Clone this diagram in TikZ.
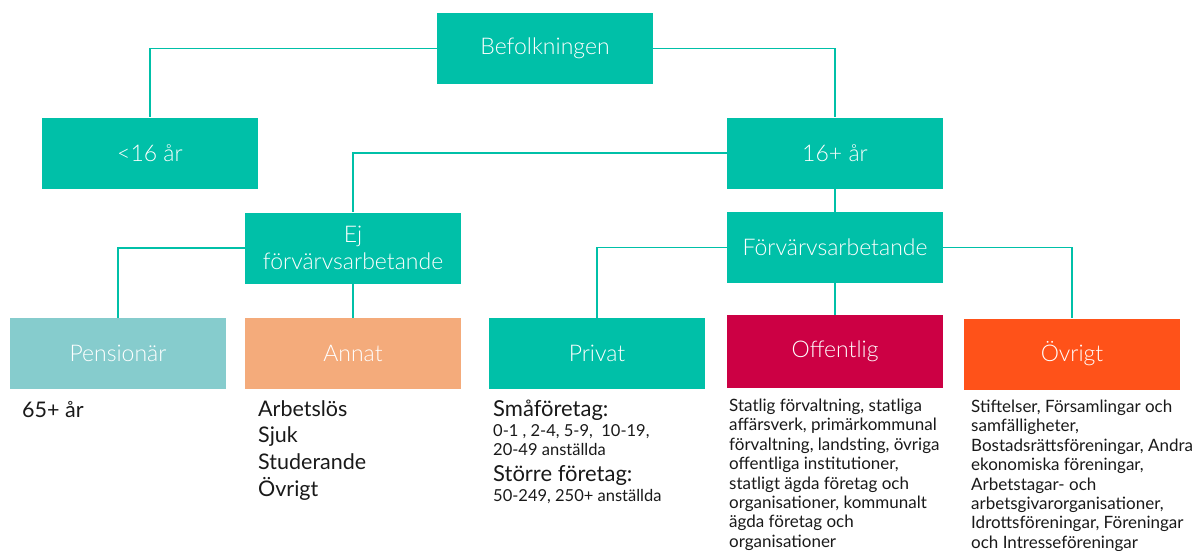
\documentclass[tikz,border=0pt]{standalone}
\usepackage{fontspec}
\setmainfont{Lato}
\newfontfamily\lightfont{Lato Light}
\definecolor{tl}{RGB}{0,192,168}
\definecolor{pencol}{RGB}{134,204,205}
\definecolor{anncol}{RGB}{244,171,123}
\definecolor{offcol}{RGB}{204,0,68}
\definecolor{ovrcol}{RGB}{255,82,25}
\definecolor{txt}{RGB}{25,25,25}
\newcommand\blk[1]{\begin{tabular}[t]{@{}l@{}}#1\end{tabular}}
\begin{document}
\begin{tikzpicture}[x=1pt,y=-1pt,
  box/.style={rectangle, minimum width=216pt, minimum height=71pt, inner sep=0pt,
    text=white, font=\lightfont\fontsize{23}{26.5}\selectfont, align=center},
  conn/.style={draw=tl, line width=1.5pt},
  body/.style={anchor=base west, inner sep=0pt, text=txt}]
\useasboundingbox (0,0) rectangle (1193,551);
% boxes
\node[box, fill=tl] (bef) at (545,48.5) {Befolkningen};
\node[box, fill=tl] (u16) at (150,153) {<16 år};
\node[box, fill=tl] (o16) at (835,153) {16+ år};
\node[box, fill=tl] (ej) at (353,248) {Ej\\förvärvsarbetande};
\node[box, fill=tl] (fa) at (835,247.5) {Förvärvsarbetande};
\node[box, fill=pencol] (pen) at (118,353.5) {Pensionär};
\node[box, fill=anncol] (ann) at (353,353.5) {Annat};
\node[box, fill=tl] (pri) at (597,353.5) {Privat};
\node[box, fill=offcol, minimum height=73pt] (off) at (835,351.5) {Offentlig};
\node[box, fill=ovrcol] (ovr) at (1072,354) {Övrigt};
% connectors
\draw[conn] (bef.west) -| (u16.north);
\draw[conn] (bef.east) -| (o16.north);
\draw[conn] (o16.west) -| (ej.north);
\draw[conn] (o16.south) -- (fa.north);
\draw[conn] (ej.west) -| (pen.north);
\draw[conn] (ej.south) -- (ann.north);
\draw[conn] (fa.west) -| (pri.north);
\draw[conn] (fa.south) -- (off.north);
\draw[conn] (fa.east) -| (ovr.north);
% texts
\node[body, font=\fontsize{21.5}{26.7}\selectfont] (t65) at (22,417) {65+ år};
\node[body, font=\fontsize{21.5}{26.7}\selectfont] (tann) at (258,416) {\blk{Arbetslös\\Sjuk\\Studerande\\Övrigt}};
\node[body, font=\fontsize{22}{24}\selectfont] (smaf) at (493,416) {Småföretag:};
\node[body, font=\fontsize{16.5}{19.5}\selectfont] (smat) at (493,436) {\blk{0-1 , 2-4, 5-9,\ \ 10-19,\\20-49 anställda}};
\node[body, font=\fontsize{22}{24}\selectfont] (stof) at (493,481) {Större företag:};
\node[body, font=\fontsize{16.5}{19.5}\selectfont] (stot) at (493,501) {50-249, 250+ anställda};
\node[body, font=\fontsize{17}{19.4}\selectfont] (toff) at (729,411.5) {\blk{Statlig förvaltning, statliga\\affärsverk, primärkommunal\\förvaltning, landsting, övriga\\offentliga institutioner,\\statligt ägda företag och\\organisationer, kommunalt\\ägda företag och\\organisationer}};
\node[body, font=\fontsize{17}{19.4}\selectfont] (tovr) at (971,412.5) {\blk{Stiftelser, Församlingar och\\samfälligheter,\\Bostadsrättsföreningar, Andra\\ekonomiska föreningar,\\Arbetstagar- och\\arbetsgivarorganisationer,\\Idrottsföreningar, Föreningar\\och Intresseföreningar}};
\end{tikzpicture}
\end{document}
